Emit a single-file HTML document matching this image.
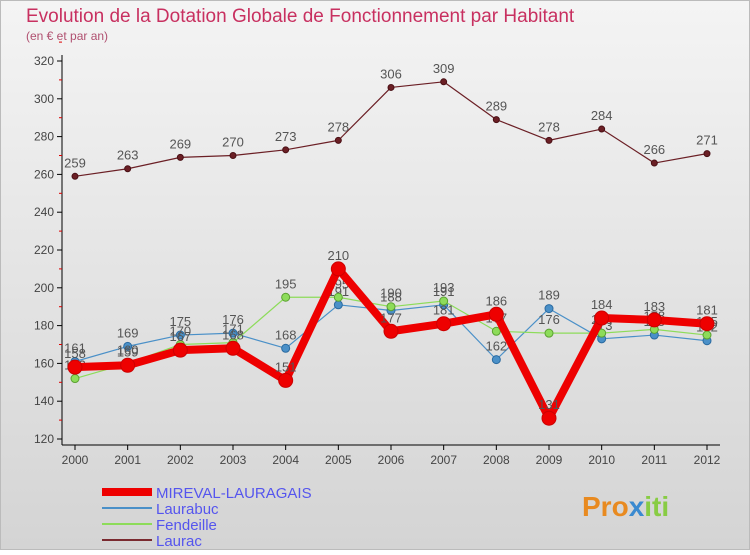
<!DOCTYPE html>
<html><head><meta charset="utf-8"><style>
body{margin:0;width:750px;height:550px;overflow:hidden;font-family:"Liberation Sans",sans-serif}
</style></head><body>
<svg id="c" width="750" height="550" xmlns="http://www.w3.org/2000/svg">
<defs><linearGradient id="bg" x1="0" y1="0" x2="0" y2="1"><stop offset="0" stop-color="#f4f4f4"/><stop offset="1" stop-color="#d4d4d4"/></linearGradient></defs>
<rect x="0.5" y="0.5" width="749" height="549" fill="url(#bg)" stroke="#bbb"/>
<text x="26" y="22" font-size="19" fill="#c83060">Evolution de la Dotation Globale de Fonctionnement par Habitant</text>
<text x="26" y="40" font-size="12" fill="#b05070">(en € et par an)</text>
<g id="axes"></g><g id="series"></g>
<g>
<line x1="102" y1="492" x2="152" y2="492" stroke="#e00" stroke-width="8"/><text x="156" y="498" font-size="15" fill="#5555ee">MIREVAL-LAURAGAIS</text>
<line x1="102" y1="508" x2="152" y2="508" stroke="#4a90c8" stroke-width="2"/><text x="156" y="514" font-size="15" fill="#5555ee">Laurabuc</text>
<line x1="102" y1="524" x2="152" y2="524" stroke="#8ddc5a" stroke-width="2"/><text x="156" y="530" font-size="15" fill="#5555ee">Fendeille</text>
<line x1="102" y1="540" x2="152" y2="540" stroke="#7a2a30" stroke-width="2"/><text x="156" y="546" font-size="15" fill="#5555ee">Laurac</text>
</g>
<text x="582" y="516" font-size="28" font-weight="bold" fill="#e88a20">Pro<tspan fill="#3a8ad0">x</tspan><tspan fill="#8c4">iti</tspan></text>
</svg>
<script>
const years=[2000,2001,2002,2003,2004,2005,2006,2007,2008,2009,2010,2011,2012];
const mireval=[158,159,167,168,151,210,177,181,186,131,184,183,181];
const laurabuc=[161,169,175,176,168,191,188,191,162,189,173,175,172];
const fendeille=[152,160,170,171,195,195,190,193,177,176,176,178,175];
const laurac=[259,263,269,270,273,278,306,309,289,278,284,266,271];
const yTicks=[120,140,160,180,200,220,240,260,280,300,320];
const NS="http://www.w3.org/2000/svg";
const X=i=>75+i*(707-75)/(years.length-1);
const Y=v=>439-(v-120)*(439-61)/200;
function mk(t,a,p){const e=document.createElementNS(NS,t);for(const k in a)e.setAttribute(k,a[k]);p.appendChild(e);return e;}
const ax=document.getElementById('axes');
mk('line',{x1:62,y1:55,x2:62,y2:445,stroke:'#000'},ax);
mk('line',{x1:62,y1:445,x2:720,y2:445,stroke:'#000'},ax);
yTicks.forEach(v=>{
 mk('line',{x1:57,y1:Y(v),x2:62,y2:Y(v),stroke:'#000'},ax);
 mk('line',{x1:59,y1:Y(v+10),x2:62,y2:Y(v+10),stroke:'#d00'},ax);
 const t=mk('text',{x:54,y:Y(v)+4,'font-size':12,'text-anchor':'end',fill:'#444'},ax);
 t.textContent=v;
 
 
});
years.forEach((y,i)=>{
 mk('line',{x1:X(i),y1:445,x2:X(i),y2:450,stroke:'#000'},ax);
 const t=mk('text',{x:X(i),y:464,'font-size':12,'text-anchor':'middle',fill:'#444'},ax);
 t.textContent=y;
 
 
});
const sg=document.getElementById('series');
function series(name,vals,color,w,r,stroke){
 const g=mk('g',{},sg);
 
 
 mk('polyline',{points:vals.map((v,i)=>X(i)+','+Y(v)).join(' '),fill:'none',stroke:color,'stroke-width':w,'stroke-linejoin':'round'},g);
 vals.forEach((v,i)=>{
  const c=mk('circle',{cx:X(i),cy:Y(v),r:r,fill:color,stroke:stroke,'stroke-width':1},g);
  
  
  const t=mk('text',{x:X(i),y:Y(v)-9,'font-size':13,'text-anchor':'middle',fill:'#555'},g);
  t.textContent=v;
  
  
 });
}
series('laurac-series',laurac,'#6b1f25',1.2,3,'#4a1015');
series('laurabuc-series',laurabuc,'#4a90c8',1.2,4,'#2a6aa0');
series('fendeille-series',fendeille,'#8ddc5a',1.2,4,'#5aa030');
series('mireval-series',mireval,'#ee0000',8,7,'#cc0000');
</script>
</body></html>
